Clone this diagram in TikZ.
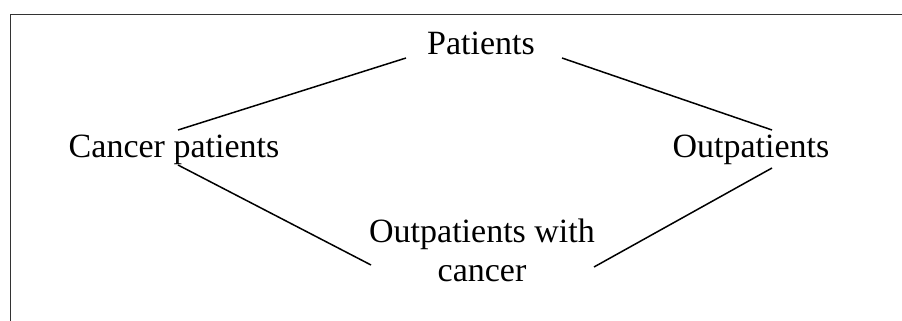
\documentclass[tikz,border=0pt]{standalone}
\usepackage{fontspec}
\setmainfont{Liberation Serif}
\usetikzlibrary{positioning}

\begin{document}
\begin{tikzpicture}[
  x=1pt, y=1pt,
  term/.style={inner sep=0pt, align=center, font=\fontsize{34}{39}\selectfont},
  link/.style={line width=1.5pt},
  frame/.style={line width=1pt, draw=black!80}
]
\useasboundingbox (0,0) rectangle (902,321);

% Open frame - top and left side only
\draw[frame] (902,306) -- (10,306) -- (10,0);

% Top - Patients
\node[term, anchor=base] (patients) at (481,266) {Patients};

% Middle row
\node[term, anchor=base] (cancer) at ([xshift=-307pt, yshift=-103pt]patients.base) {Cancer patients};
\node[term, anchor=base] (outpatients) at ([xshift=270pt, yshift=-103pt]patients.base) {Outpatients};

% Bottom - both (base is the last line)
\node[term, anchor=base] (both) at ([xshift=1pt, yshift=-227pt]patients.base) {Outpatients with\\cancer};

% Lines from Patients
\draw[link] ([xshift=-75pt, yshift=-3pt]patients.base) -- ([xshift=4pt, yshift=28pt]cancer.base);
\draw[link] ([xshift=81pt, yshift=-3pt]patients.base) -- ([xshift=21pt, yshift=28pt]outpatients.base);

% Lines into the bottom node
\draw[link] ([xshift=4pt, yshift=-7pt]cancer.base) -- ([xshift=-111pt, yshift=17pt]both.base);
\draw[link] ([xshift=21pt, yshift=-10pt]outpatients.base) -- ([xshift=112pt, yshift=15pt]both.base);

\end{tikzpicture}
\end{document}
